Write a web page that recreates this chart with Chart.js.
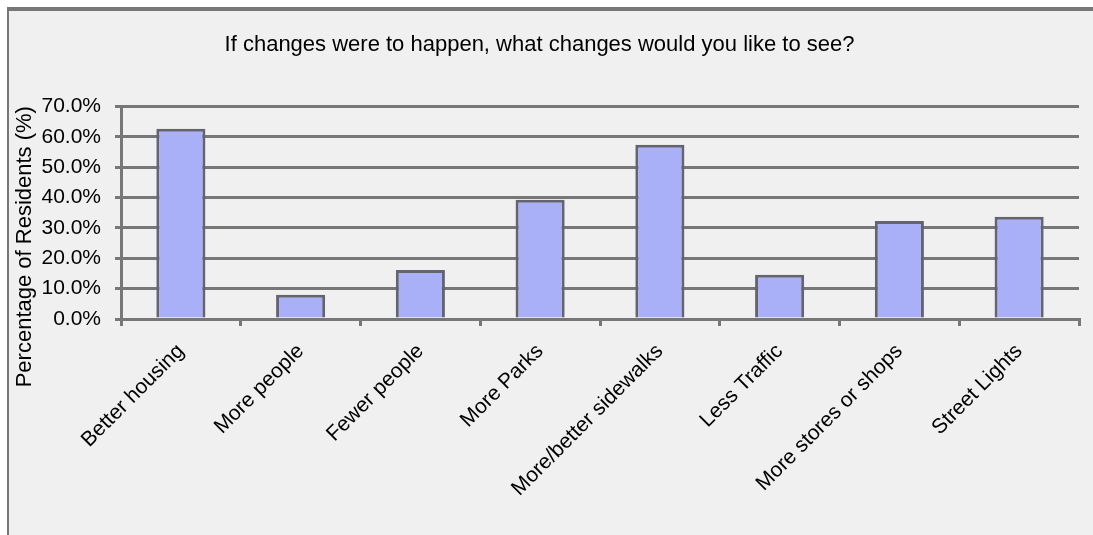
<!DOCTYPE html>
<html>
<head>
<meta charset="utf-8">
<script src="https://cdn.jsdelivr.net/npm/chart.js@4/dist/chart.umd.min.js"></script>
<style>
  body { margin: 0; background: #fff; }
  #wrap { position: absolute; left: 0; top: 0; width: 1093px; height: 535px; }
</style>
</head>
<body>
<div id="wrap"><canvas id="myChart" width="1093" height="535"></canvas></div>
<script>
// categories and values (percent of residents)
var categories = ['Better housing', 'More people', 'Fewer people', 'More Parks',
  'More/better sidewalks', 'Less Traffic', 'More stores or shops', 'Street Lights'];
var percents = [62.6, 8.0, 16.1, 39.3, 57.4, 14.6, 32.3, 33.7];
var yTicks = [0, 10, 20, 30, 40, 50, 60, 70];

var chartTitle = 'If changes were to happen, what changes would you like to see?';
var yTitle = 'Percentage of Residents (%)';

var fontFam = '"Liberation Sans", Arial, sans-serif';

// grey frame + light background, y axis title drawn a bit lower than centre
const framePlugin = {
  id: 'frame',
  beforeDraw: function (chart) {
    var ctx = chart.ctx;
    ctx.save();
    ctx.fillStyle = '#ffffff';
    ctx.fillRect(0, 0, chart.width, chart.height);
    ctx.fillStyle = '#f0f0f0';
    ctx.fillRect(7, 7, chart.width - 7, chart.height - 7);
    ctx.fillStyle = '#777777';
    ctx.fillRect(7, 7, chart.width - 7, 4);
    ctx.fillRect(7, 7, 2, chart.height - 7);
    ctx.restore();
  },
  afterDraw: function (chart) {
    var ctx = chart.ctx;
    var area = chart.chartArea;
    ctx.save();
    ctx.translate(25, area.top + (area.bottom - area.top) / 2 + 34);
    ctx.rotate(-Math.PI / 2);
    ctx.fillStyle = '#000';
    ctx.font = '22px ' + fontFam;
    ctx.textAlign = 'center';
    ctx.textBaseline = 'middle';
    ctx.fillText(yTitle, 0, 0);
    ctx.restore();
  }
};

const data = {
  labels: categories,
  datasets: [{
    label: 'Residents',
    data: percents,
    backgroundColor: '#aab0f8',
    borderColor: '#646470',
    borderWidth: 3,
    barPercentage: 0.41,
    categoryPercentage: 1.0
  }]
};

const config = {
  type: 'bar',
  data: data,
  plugins: [framePlugin],
  options: {
    responsive: false,
    animation: false,
    layout: { padding: { left: 0, right: 14, top: 0, bottom: 0 } },
    plugins: {
      legend: { display: false },
      tooltip: { enabled: false },
      title: {
        display: true,
        text: chartTitle,
        color: '#000',
        font: { family: fontFam, size: 22, weight: 'normal' },
        padding: { top: 32, bottom: 48 }
      }
    },
    scales: {
      x: {
        afterFit: function (scale) { scale.height = 535 - 319; },
        grid: { display: true, drawOnChartArea: false, drawTicks: true, tickLength: 7, color: '#777', lineWidth: 3, offset: true },
        border: { display: true, color: '#777', width: 3 },
        ticks: {
          color: '#000',
          font: { family: fontFam, size: 21 },
          maxRotation: 45,
          minRotation: 45,
          padding: 13,
          autoSkip: false
        }
      },
      y: {
        min: 0,
        max: 70,
        afterFit: function (scale) { scale.width = 121; },
        afterBuildTicks: function (scale) {
          scale.ticks = yTicks.map(function (v) { return { value: v }; });
        },
        grid: { color: '#777', lineWidth: 3, tickLength: 6 },
        border: { display: true, color: '#777', width: 3 },
        ticks: {
          color: '#000',
          font: { family: fontFam, size: 21 },
          padding: 14,
          callback: function (v) { return v.toFixed(1) + '%'; }
        },
        title: { display: false }
      }
    }
  }
};

const myChart = new Chart(document.getElementById('myChart'), config);
</script>
</body>
</html>
